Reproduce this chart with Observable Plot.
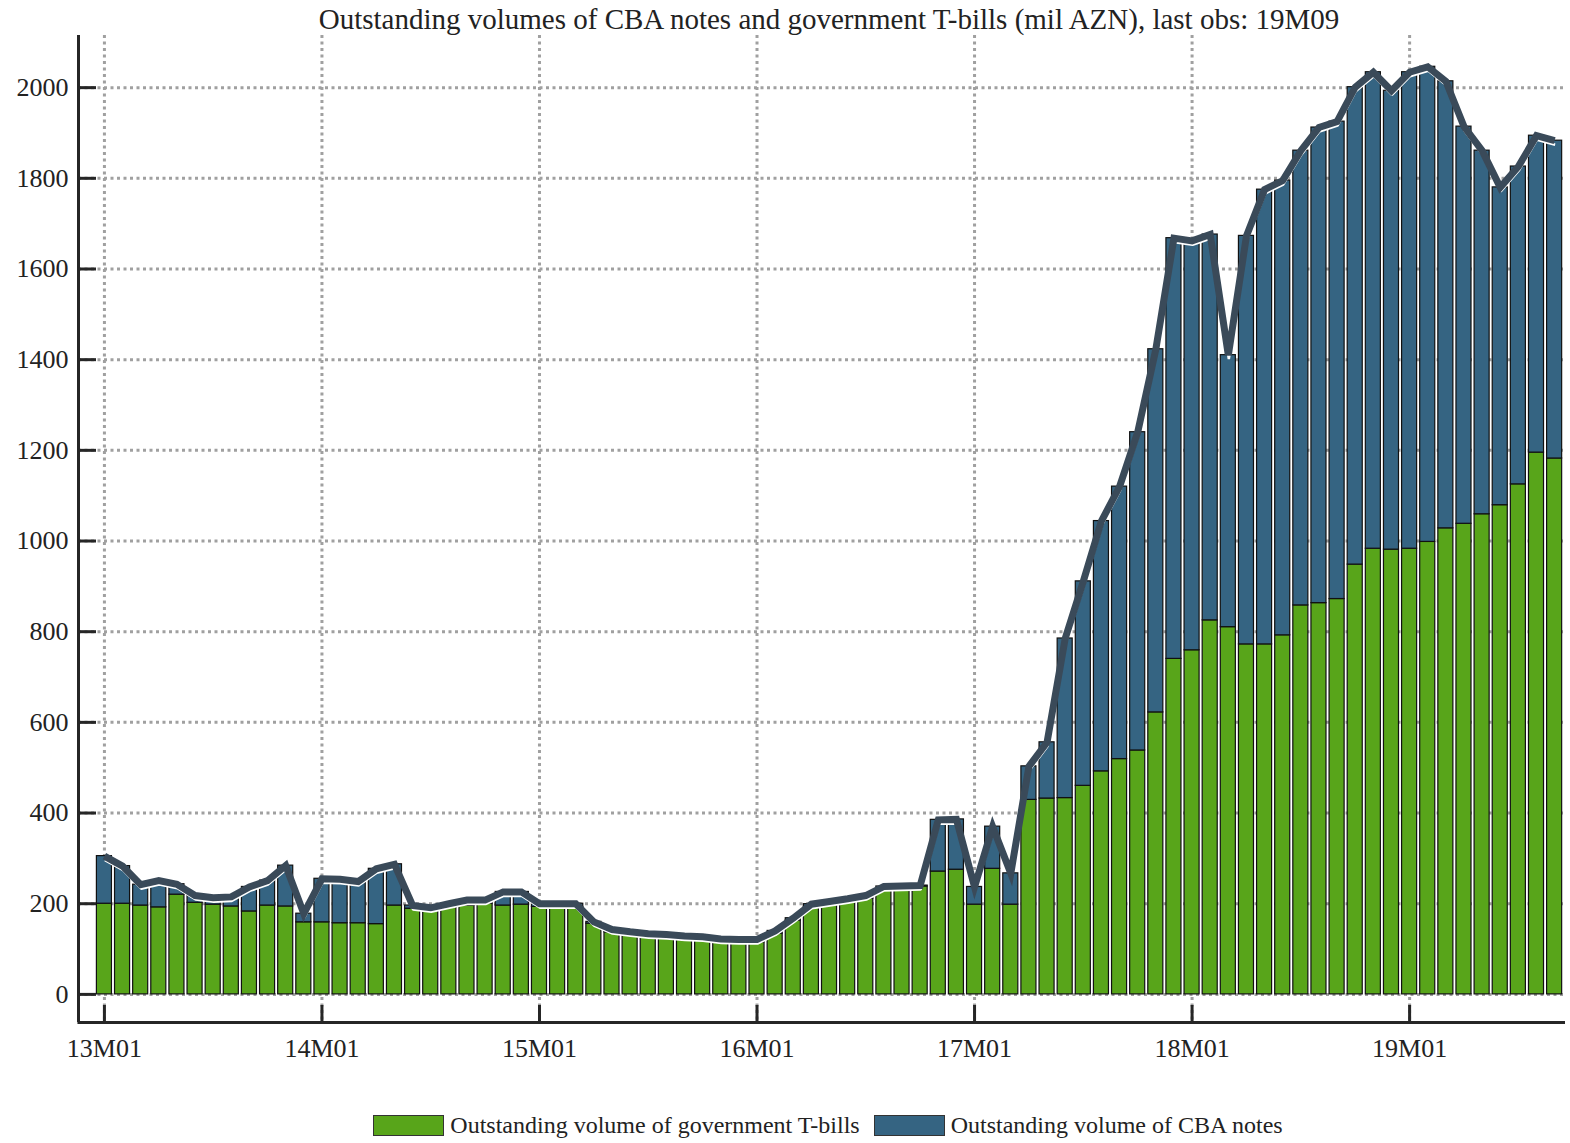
<!DOCTYPE html>
<html>
<head>
<meta charset="utf-8">
<script src="https://cdn.jsdelivr.net/npm/d3@7"></script>
<script src="https://cdn.jsdelivr.net/npm/@observablehq/plot@0.6"></script>
<style>
  body { margin: 0; background: #fff; font-family: "Liberation Serif", "DejaVu Serif", serif; color: #222; }
  #title { width: 1570px; height: 32px; box-sizing: border-box; padding-left: 88px; text-align: center; font-size: 29px; line-height: 38px; white-space: nowrap; }
  #legend { width: 1570px; height: 36px; box-sizing: border-box; padding-left: 86px; display: flex; justify-content: center; align-items: center; font-size: 24px; }
  .sw { width: 69px; height: 19px; border: 1px solid #333; margin-right: 6px; }
  .item { display: flex; align-items: center; margin: 0 7px; }
</style>
</head>
<body>
<div id="title">Outstanding volumes of CBA notes and government T-bills (mil AZN), last obs: 19M09</div>
<div id="chart"></div>
<div id="legend"></div>
<script>
const months = [
  "13M01","13M02","13M03","13M04","13M05","13M06","13M07","13M08","13M09","13M10","13M11","13M12",
  "14M01","14M02","14M03","14M04","14M05","14M06","14M07","14M08","14M09","14M10","14M11","14M12",
  "15M01","15M02","15M03","15M04","15M05","15M06","15M07","15M08","15M09","15M10","15M11","15M12",
  "16M01","16M02","16M03","16M04","16M05","16M06","16M07","16M08","16M09","16M10","16M11","16M12",
  "17M01","17M02","17M03","17M04","17M05","17M06","17M07","17M08","17M09","17M10","17M11","17M12",
  "18M01","18M02","18M03","18M04","18M05","18M06","18M07","18M08","18M09","18M10","18M11","18M12",
  "19M01","19M02","19M03","19M04","19M05","19M06","19M07","19M08","19M09"
];
// Outstanding volume of government T-bills (mil AZN)
const tbills = [
  200,200,196,192,220,202,198,194,183,196,194,159,
  159,157,157,155,196,189,187,191,196,200,196,198,
  193,193,193,156,137,131,128,125,121,119,115,115,
  115,134,163,193,198,203,211,230,232,238,271,275,
  198,277,198,429,432,433,460,492,519,538,622,740,
  759,825,810,772,772,792,858,863,872,948,983,981,
  983,998,1028,1038,1059,1079,1125,1195,1182
];
// Outstanding volume of CBA notes (mil AZN)
const cbaNotes = [
  105,83,46,59,23,16,15,21,54,55,90,19,
  96,97,92,122,91,7,4,9,12,8,30,28,
  7,7,7,4,6,7,6,7,8,8,7,6,
  6,6,5,6,7,8,7,8,7,2,114,111,
  39,93,69,74,124,352,451,552,601,702,801,928,
  903,851,600,901,1003,1003,1003,1049,1053,1053,1051,1012,
  1051,1048,986,876,802,701,701,699,701
];
const yTicks = [0,200,400,600,800,1000,1200,1400,1600,1800,2000];
const xTickLabels = ["13M01","14M01","15M01","16M01","17M01","18M01","19M01"];
const seriesNames = ["Outstanding volume of government T-bills", "Outstanding volume of CBA notes"];
const seriesColors = ["#58a51a", "#356482"];
const lineColor = "#3a4a59";

const data = months.map((m, i) => ({i, m, tb: tbills[i], cba: cbaNotes[i], total: tbills[i] + cbaNotes[i]}));
const xTickIdx = xTickLabels.map(l => months.indexOf(l));

const W = 1570, H = 1075, mL = 78, mR = 5, mT = 3, mB = 85;
const xDom = [-1.43, 80.6], yDom = [-62, 2115];
const plotW = W - mL - mR, plotH = H - mT - mB;
const half = 0.415;
const grid = {stroke: "#a0a0a0", strokeWidth: 3, strokeDasharray: "3,3.5"};
const axisStroke = {stroke: "#262626", strokeWidth: 3};

const chart = Plot.plot({
  width: W, height: H,
  marginLeft: mL, marginRight: mR, marginTop: mT, marginBottom: mB,
  style: {fontFamily: "Liberation Serif", fontSize: "26px", color: "#222", background: "#fff"},
  x: {type: "linear", domain: xDom, axis: null},
  y: {domain: yDom, axis: null},
  marks: [
    Plot.ruleY(yTicks, grid),
    Plot.ruleX(xTickIdx, grid),
    Plot.rectY(data, {x1: d => d.i - half, x2: d => d.i + half, y1: 0, y2: "tb", fill: seriesColors[0], stroke: "#111", strokeWidth: 1.2}),
    Plot.rectY(data, {x1: d => d.i - half, x2: d => d.i + half, y1: "tb", y2: "total", fill: seriesColors[1], stroke: "#111", strokeWidth: 1.2}),
    Plot.line(data, {x: "i", y: "total", stroke: "#fff", strokeWidth: 2.5, dx: 0.5, dy: 4, strokeLinejoin: "miter", strokeLinecap: "butt"}),
    Plot.line(data, {x: "i", y: "total", stroke: lineColor, strokeWidth: 7, strokeLinejoin: "miter", strokeMiterlimit: 4, strokeLinecap: "butt"}),
    Plot.ruleX([xDom[0]], axisStroke),
    Plot.ruleY([yDom[0]], {...axisStroke, x1: xDom[0] - 0.03, x2: xDom[1]}),
    Plot.tickY(yTicks, {y: d => d, insetRight: plotW - 18, ...axisStroke}),
    Plot.tickX(xTickIdx, {x: d => d, insetTop: plotH - 17, ...axisStroke}),
    Plot.axisY({ticks: yTicks, tickSize: 0, tickPadding: 10, fontSize: 26, tickFormat: d => String(d), label: null}),
    Plot.axisX({ticks: xTickIdx, tickSize: 0, tickPadding: 16, fontSize: 26, tickFormat: d => months[Math.round(d)], label: null})
  ]
});
document.getElementById("chart").appendChild(chart);

const legend = document.getElementById("legend");
seriesNames.forEach((name, k) => {
  const item = document.createElement("div");
  item.className = "item";
  const sw = document.createElement("div");
  sw.className = "sw";
  sw.style.background = seriesColors[k];
  const t = document.createElement("span");
  t.textContent = name;
  item.appendChild(sw);
  item.appendChild(t);
  legend.appendChild(item);
});
</script>
</body>
</html>
